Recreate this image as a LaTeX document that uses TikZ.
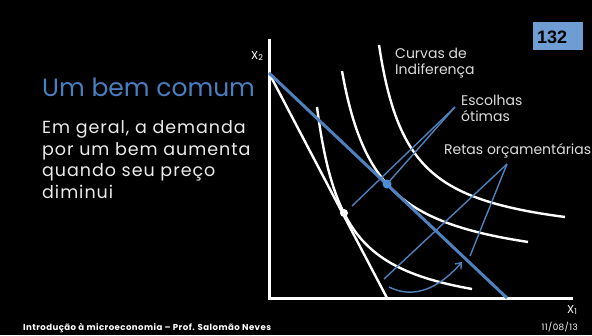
\documentclass[tikz,border=0pt]{standalone}
\usepackage{fontspec}
\setmainfont{Poppins}
\newfontfamily\numfont{Liberation Sans}
\newfontfamily\widefont[LetterSpace=5.5]{Poppins}
\newfontfamily\footfont[LetterSpace=5]{Poppins}
\usetikzlibrary{arrows.meta}
\definecolor{lineblue}{HTML}{4F81BD}
\definecolor{titleblue}{HTML}{4A7EBF}
\definecolor{boxblue}{HTML}{6E9DD4}
\definecolor{dotblue}{HTML}{4A90D9}
\definecolor{bodytext}{HTML}{EAEAEA}
\definecolor{labeltext}{HTML}{DCDCDC}
\tikzset{
  axis/.style={white, line width=3pt},
  icurve/.style={white, line width=2.4pt, smooth},
  budgetw/.style={white, line width=2.4pt},
  budgetb/.style={lineblue, line width=3pt},
  pointer/.style={lineblue, line width=1.4pt},
  lbl/.style={labeltext, anchor=base west, inner sep=0pt, font=\fontsize{14}{16}\selectfont},
  body/.style={bodytext, anchor=base west, inner sep=0pt, font=\widefont\fontsize{17.5}{21}\selectfont},
  foot/.style={white, inner sep=0pt, font=\footfont\fontsize{8.8}{10}\selectfont},
  footbold/.style={white, inner sep=0pt, font=\footfont\fontsize{8.6}{10}\selectfont\bfseries},
}
\begin{document}
\begin{tikzpicture}[x=1pt,y=-1pt]
\fill[black] (0,0) rectangle (592,335);
\useasboundingbox (0,0) rectangle (592,335);

% slide number
\node[fill=boxblue, minimum width=50pt, minimum height=28pt, inner sep=0pt, anchor=north west] (numbox) at (533,22) {};
\node[anchor=base west, inner sep=0pt, font=\numfont\fontsize{18}{20}\selectfont\bfseries, text=black] (num) at (537,43) {132};

% title and body
\node[titleblue, anchor=base west, inner sep=0pt, font=\fontsize{25}{30}\selectfont] (title) at (42,96.5) {Um bem comum};
\node[body] (b1) at (42,133) {Em geral, a demanda};
\node[body] (b2) at (42,155) {por um bem aumenta};
\node[body] (b3) at (42,176.5) {quando seu preço};
\node[body] (b4) at (42,198) {diminui};

% axes
\coordinate (ytop) at (269,39);
\coordinate (O) at (269,298);
\coordinate (xend) at (573,298);
\draw[axis] (ytop) -- (O) -- (xend);
\node[white, anchor=base west, inner sep=0pt, font=\fontsize{11.5}{12}\selectfont] (x2) at (251,59) {X\textsubscript{2}};
\node[white, anchor=base west, inner sep=0pt, font=\fontsize{11.5}{12}\selectfont] (x1) at (567,313) {X\textsubscript{1}};

% indifference curves
\draw[icurve] plot[domain=317:472, samples=80] (\x, {321.4 - 5916/(\x - 289.4)});
\draw[icurve] plot[domain=342:528, samples=80] (\x, {275.4 - 7440/(\x - 305.6)});
\draw[icurve] plot[domain=379:565, samples=80] (\x, {245 - 6059/(\x - 348.7)});

% budget lines
\coordinate (A) at (269,73);
\coordinate (Bw) at (387,298);
\coordinate (Bb) at (507,298);
\draw[budgetw] (A) -- (Bw);
\draw[budgetb] (A) -- (Bb);

% optimal points
\node[circle, fill=white, minimum size=8pt, inner sep=0pt] (wdot) at (344,213) {};
\node[circle, fill=dotblue, minimum size=9pt, inner sep=0pt] (bdot) at (387,184) {};

% labels
\node[lbl] (curvas1) at (395,58) {Curvas de};
\node[lbl] (curvas2) at (395,74) {Indiferença};
\node[lbl] (esc1) at (461,105) {Escolhas};
\node[lbl] (esc2) at (461,121) {ótimas};
\node[lbl] (retas) at (444,154) {Retas orçamentárias};

% pointer lines
\coordinate (ea) at (455,107);
\coordinate (eA) at (352,206);
\draw[pointer] (ea) -- (eA);
\draw[pointer] (ea) -- (bdot.center);
\coordinate (ra) at (507,164);
\coordinate (rA) at (384,279);
\coordinate (rB) at (470,256);
\draw[pointer] (ra) -- (rA);
\draw[pointer] (ra) -- (rB);

% shift arrow
\coordinate (arS) at (389,287);
\coordinate (arE) at (462,262);
\draw[pointer, -{Straight Barb[length=5pt,width=8pt]}] (arS) .. controls (415,300) and (440,287) .. (arE);

% footer
\node[footbold, anchor=base west] (footer) at (23,330) {Introdução à microeconomia – Prof. Salomão Neves};
\node[foot, anchor=base east] (date) at (578,330) {11/08/13};
\end{tikzpicture}
\end{document}
